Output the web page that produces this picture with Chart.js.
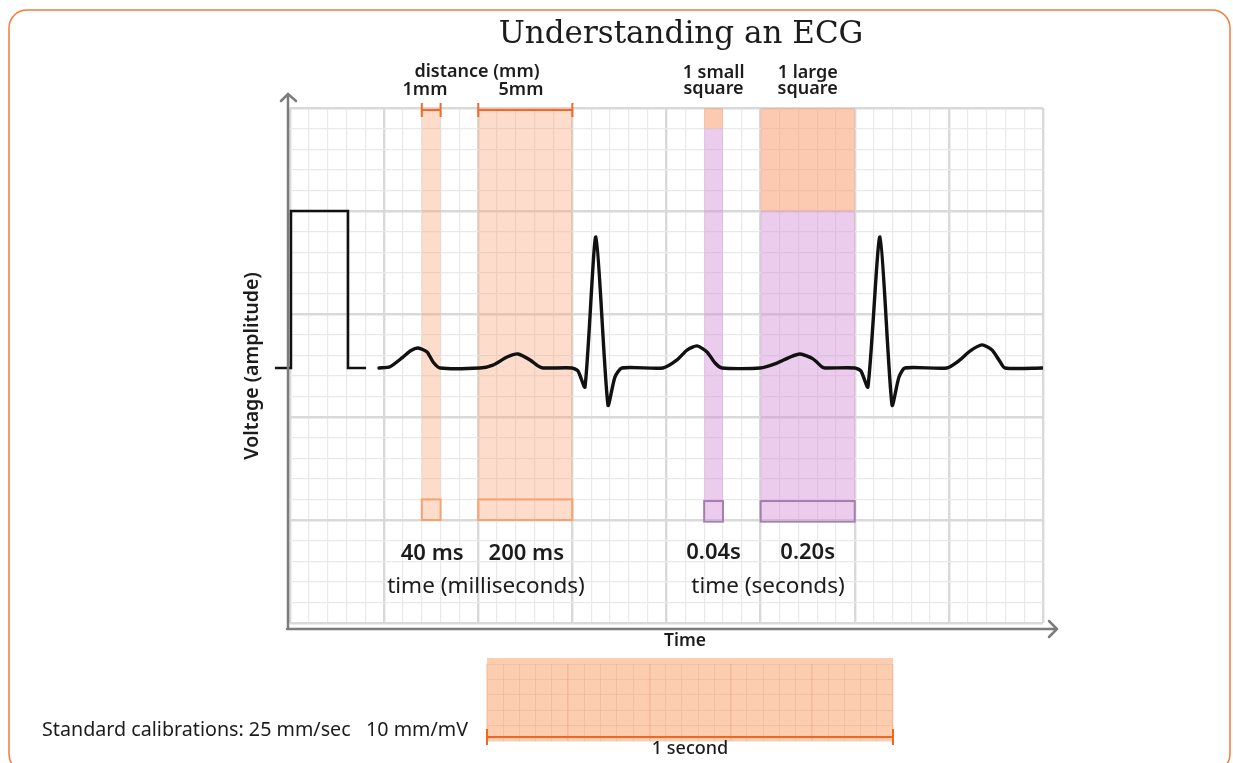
<!DOCTYPE html>
<html>
<head>
<meta charset="utf-8">
<title>Understanding an ECG</title>
<script src="https://cdn.jsdelivr.net/npm/chart.js@4.4.0/dist/chart.umd.min.js"></script>
<style>
  html, body { margin: 0; padding: 0; background: #fff; }
  #wrap { position: relative; width: 1233px; height: 763px; overflow: hidden; }
  #ecg { position: absolute; left: 0; top: 0; }
  #strip { position: absolute; left: 470px; top: 645px; }
</style>
</head>
<body>
<div id="wrap">
  <canvas id="ecg" width="1233" height="763"></canvas>
  <canvas id="strip" width="440" height="118"></canvas>
</div>
<script>
// ECG paper, both axes in mm (one small square = 1 mm)
const paperWidthMm = 40;
const paperHeightMm = 25;

// calibration pulse at the start of the strip
const calX = [-0.8, 0.05, 0.05, 3.08, 3.08, 4.04];
const calY = [12.38, 12.38, 20, 20, 12.38, 12.38];

// the trace
const ecgX = [4.73, 5.31, 6.00, 6.43, 6.80, 7.28, 7.60, 7.97,
  10.09, 10.78, 11.53, 12.11, 12.75, 13.17, 13.44,
  14.98, 15.30, 15.67, 16.25, 16.89, 17.26, 17.64,
  19.81, 20.56, 21.09, 21.62, 22.15, 22.58, 22.95,
  24.97, 25.87, 26.56, 27.09, 27.78, 28.26, 28.42,
  30.01, 30.33, 30.70, 31.34, 31.98, 32.35, 32.67,
  34.90, 35.59, 36.12, 36.76, 37.29, 37.66, 37.98,
  39.95];
const ecgY = [12.38, 12.44, 12.91, 13.23, 13.35, 13.16, 12.67, 12.38,
  12.38, 12.52, 12.91, 13.06, 12.77, 12.48, 12.38,
  12.38, 12.23, 11.46, 18.74, 10.58, 11.94, 12.38,
  12.38, 12.77, 13.25, 13.45, 13.16, 12.62, 12.38,
  12.38, 12.62, 12.91, 13.06, 12.82, 12.43, 12.38,
  12.38, 12.23, 11.46, 18.74, 10.58, 11.94, 12.38,
  12.38, 12.77, 13.20, 13.50, 13.25, 12.77, 12.38,
  12.38];

// highlighted columns [from, to] in mm
const msCols = [[7, 8], [10, 15]];
const secCols = [[22, 23], [25, 30]];
// bottom of the orange square sitting on top of each seconds column
const secSquareBottom = [24, 20];
const colBottom = 5;
const boxTop = 6;

const distLabels = ['1mm', '5mm'];
const msLabels = ['40 ms', '200 ms'];
const secLabels = ['0.04s', '0.20s'];
const squareLabels = [['1 small', 'square'], ['1 large', 'square']];

// calibration strip: 1 second = 25 mm, 5 rows
const stripMm = 25;
const stripRows = 5;

const sans = "'Noto Sans', sans-serif";
const ink = '#1c1c1c';

function pts(xs, ys) {
  return xs.map((v, i) => ({ x: v, y: ys[i] }));
}

function paperGrid(minor, major, wMinor, wMajor) {
  return {
    drawTicks: false,
    color: c => (c.tick && Math.round(c.tick.value) % 5 === 0 ? major : minor),
    lineWidth: c => (c.tick && Math.round(c.tick.value) % 5 === 0 ? wMajor : wMinor)
  };
}

const paperPlugin = {
  id: 'paper',
  beforeDraw(chart) {
    const ctx = chart.ctx;
    ctx.save();
    ctx.fillStyle = '#fff';
    ctx.fillRect(0, 0, chart.width, chart.height);
    ctx.strokeStyle = '#f47b3e';
    ctx.lineWidth = 1.5;
    ctx.beginPath();
    ctx.roundRect(9, 10, 1221, 762, 18);
    ctx.stroke();
    ctx.restore();
  },
  beforeDatasetsDraw(chart) {
    const { ctx, scales: { x, y } } = chart;
    const box = (x0, x1, y0, y1, fill, stroke) => {
      const l = x.getPixelForValue(x0), r = x.getPixelForValue(x1);
      const t = y.getPixelForValue(y1), b = y.getPixelForValue(y0);
      if (fill) { ctx.fillStyle = fill; ctx.fillRect(l, t, r - l, b - t); }
      if (stroke) { ctx.strokeStyle = stroke; ctx.lineWidth = 2; ctx.strokeRect(l, t, r - l, b - t); }
    };
    ctx.save();
    msCols.forEach(c => {
      box(c[0], c[1], colBottom, paperHeightMm, 'rgba(250,160,115,0.37)');
      box(c[0], c[1], colBottom, boxTop, null, '#f6a271');
    });
    secCols.forEach((c, i) => {
      box(c[0], c[1], secSquareBottom[i], paperHeightMm, 'rgba(250,160,115,0.56)');
      box(c[0], c[1], colBottom, secSquareBottom[i], 'rgba(212,140,212,0.44)');
      box(c[0], c[1], colBottom - 0.08, boxTop - 0.08, null, '#a47fae');
    });
    ctx.restore();
  },
  afterDraw(chart) {
    const { ctx, chartArea: a, scales: { x } } = chart;
    ctx.save();
    // axes with arrow heads
    ctx.strokeStyle = '#7c7c7c';
    ctx.lineWidth = 2.5;
    ctx.lineCap = 'round';
    ctx.beginPath();
    ctx.moveTo(a.left - 2, a.bottom + 6);
    ctx.lineTo(a.left - 2, 95);
    ctx.moveTo(a.left - 9, 101);
    ctx.lineTo(a.left - 2, 94);
    ctx.lineTo(a.left + 6, 101);
    ctx.moveTo(a.left - 3, a.bottom + 6);
    ctx.lineTo(a.right + 14, a.bottom + 6);
    ctx.moveTo(a.right + 6, a.bottom - 2);
    ctx.lineTo(a.right + 14, a.bottom + 6);
    ctx.lineTo(a.right + 6, a.bottom + 14);
    ctx.stroke();

    // distance brackets
    ctx.strokeStyle = '#f26a2b';
    ctx.lineWidth = 2;
    ctx.lineCap = 'butt';
    msCols.forEach(c => {
      const l = x.getPixelForValue(c[0]), r = x.getPixelForValue(c[1]);
      ctx.beginPath();
      ctx.moveTo(l, 110); ctx.lineTo(r, 110);
      ctx.moveTo(l, 103); ctx.lineTo(l, 117);
      ctx.moveTo(r, 103); ctx.lineTo(r, 117);
      ctx.stroke();
    });

    ctx.fillStyle = ink;
    ctx.textAlign = 'center';
    ctx.textBaseline = 'middle';

    ctx.font = "31px 'DejaVu Serif', serif";
    ctx.fillText('Understanding an ECG', 681, 35);

    ctx.font = '600 18px ' + sans;
    ctx.fillText('distance (mm)', 477, 72);
    ctx.fillText(distLabels[0], 425, 90);
    ctx.fillText(distLabels[1], 521, 90);
    squareLabels.forEach((s, i) => {
      const cx = x.getPixelForValue((secCols[i][0] + secCols[i][1]) / 2);
      ctx.fillText(s[0], cx, 73);
      ctx.fillText(s[1], cx, 89);
    });

    ctx.font = '600 22px ' + sans;
    msLabels.forEach((s, i) => {
      ctx.fillText(s, x.getPixelForValue((msCols[i][0] + msCols[i][1]) / 2) + 1, 554);
    });
    secLabels.forEach((s, i) => {
      ctx.fillText(s, x.getPixelForValue((secCols[i][0] + secCols[i][1]) / 2), 553);
    });

    ctx.font = '22.5px ' + sans;
    ctx.fillText('time (milliseconds)', 486, 587);
    ctx.fillText('time (seconds)', 768, 587);

    ctx.font = '600 17.5px ' + sans;
    ctx.fillText('Time', 685, 641);
    ctx.font = '600 19.5px ' + sans;
    ctx.save();
    ctx.translate(252, 366);
    ctx.rotate(-Math.PI / 2);
    ctx.fillText('Voltage (amplitude)', 0, 0);
    ctx.restore();

    ctx.font = '19.7px ' + sans;
    ctx.textAlign = 'left';
    ctx.fillText('Standard calibrations: 25 mm/sec   10 mm/mV', 42, 730);
    ctx.restore();
  }
};

new Chart(document.getElementById('ecg'), {
  type: 'line',
  data: {
    datasets: [
      {
        data: pts(calX, calY),
        borderColor: '#111',
        borderWidth: 2.6,
        pointRadius: 0,
        tension: 0,
        clip: false,
        borderJoinStyle: 'miter'
      },
      {
        data: pts(ecgX, ecgY),
        borderColor: '#111',
        borderWidth: 3.4,
        pointRadius: 0,
        tension: 0.22,
        borderJoinStyle: 'round',
        borderCapStyle: 'round'
      }
    ]
  },
  options: {
    responsive: false,
    animation: false,
    devicePixelRatio: 1,
    layout: { padding: { left: 290, right: 190, top: 108, bottom: 140 } },
    scales: {
      x: {
        type: 'linear', min: 0, max: paperWidthMm,
        ticks: { stepSize: 1, display: false, autoSkip: false },
        grid: paperGrid('#e9e9e9', '#d9d9d9', 1.2, 2.4),
        border: { display: false }
      },
      y: {
        type: 'linear', min: 0, max: paperHeightMm,
        ticks: { stepSize: 1, display: false, autoSkip: false },
        grid: paperGrid('#e9e9e9', '#d9d9d9', 1.2, 2.4),
        border: { display: false }
      }
    },
    plugins: { legend: { display: false }, tooltip: { enabled: false } }
  },
  plugins: [paperPlugin]
});

const stripPlugin = {
  id: 'stripPaper',
  beforeDraw(chart) {
    const { ctx, chartArea: a } = chart;
    ctx.save();
    ctx.fillStyle = '#fccdae';
    ctx.fillRect(a.left, a.top - 6, a.right - a.left, a.bottom - a.top + 6);
    ctx.restore();
  },
  afterDraw(chart) {
    const { ctx, chartArea: a } = chart;
    ctx.save();
    ctx.strokeStyle = '#f26522';
    ctx.lineWidth = 2;
    ctx.beginPath();
    ctx.moveTo(a.left, a.bottom - 4); ctx.lineTo(a.right, a.bottom - 4);
    ctx.moveTo(a.left, a.bottom - 12); ctx.lineTo(a.left, a.bottom + 4);
    ctx.moveTo(a.right, a.bottom - 12); ctx.lineTo(a.right, a.bottom + 4);
    ctx.stroke();
    ctx.fillStyle = ink;
    ctx.font = '500 18px ' + sans;
    ctx.textAlign = 'center';
    ctx.textBaseline = 'middle';
    ctx.fillText('1 second', (a.left + a.right) / 2, a.bottom + 8);
    ctx.restore();
  }
};

new Chart(document.getElementById('strip'), {
  type: 'line',
  data: { datasets: [] },
  options: {
    responsive: false,
    animation: false,
    devicePixelRatio: 1,
    layout: { padding: { left: 17, right: 17, top: 19, bottom: 22 } },
    scales: {
      x: {
        type: 'linear', min: 0, max: stripMm,
        ticks: { stepSize: 1, display: false, autoSkip: false },
        grid: paperGrid('rgba(225,140,100,0.2)', 'rgba(225,140,100,0.28)', 1, 1.6),
        border: { display: false }
      },
      y: {
        type: 'linear', min: 0, max: stripRows,
        ticks: { stepSize: 1, display: false, autoSkip: false },
        grid: paperGrid('rgba(225,140,100,0.2)', 'rgba(225,140,100,0.2)', 1, 1),
        border: { display: false }
      }
    },
    plugins: { legend: { display: false }, tooltip: { enabled: false } }
  },
  plugins: [stripPlugin]
});
</script>
</body>
</html>
